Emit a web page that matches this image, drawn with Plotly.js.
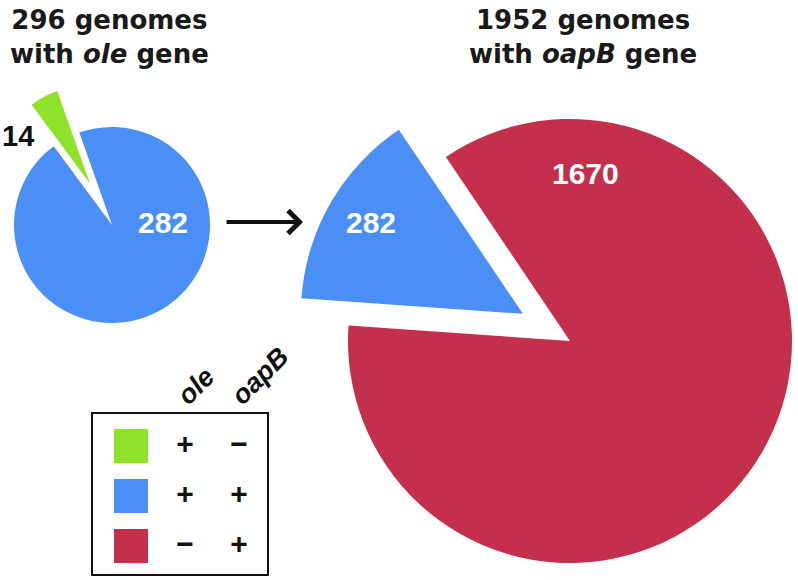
<!DOCTYPE html>
<html>
<head>
<meta charset="utf-8">
<script src="https://cdn.plot.ly/plotly-3.0.1.min.js"></script>
<style>
html,body{margin:0;padding:0;overflow:hidden;background:#fff;width:798px;height:580px;}
#chart{position:absolute;left:-100px;top:-100px;width:1000px;height:800px;}
</style>
</head>
<body>
<div id="chart"></div>
<script>
// ---- data ----
const groups = ['ole+ oapB\u2212', 'ole+ oapB+', 'ole\u2212 oapB+'];
const groupColors = ['#8FE22A', '#4A8FF5', '#C4304B'];
const oleSign = ['+', '+', '\u2212'];
const oapBSign = ['\u2212', '+', '+'];
const legendColumns = ['ole', 'oapB'];

const oleLabels = ['ole+ oapB\u2212', 'ole+ oapB+'];
const oleValues = [14, 282];
const oapBLabels = ['ole+ oapB+', 'ole\u2212 oapB+'];
const oapBValues = [282, 1670];

// ---- layout helpers (screen px -> paper) ----
const W = 1000, H = 800, OX = 100, OY = 100;
const px = sx => (sx + OX) / W;
const py = sy => 1 - (sy + OY) / H;
function pieDomain(cx, cy, r, pull) {
  const h = r * (1 + pull);
  return {x: [px(cx - h), px(cx + h)], y: [py(cy + h), py(cy - h)]};
}
const colorOf = l => groupColors[groups.indexOf(l)];
const sum = a => a.reduce((s, v) => s + v, 0);

const smallPull = 0.48, bigPull = 0.245;

const signFont = {family: 'Liberation Sans, Arial, sans-serif', size: 30, weight: 'bold', color: '#111'};

const traces = [
  {
    type: 'pie', labels: oleLabels, values: oleValues, sort: false,
    direction: 'clockwise', rotation: -36.5,
    pull: oleLabels.map((l, i) => i === 0 ? smallPull : 0),
    marker: {colors: oleLabels.map(colorOf), line: {width: 0}},
    textinfo: 'none', hoverinfo: 'label+value', showlegend: false,
    domain: pieDomain(112, 225, 98, smallPull)
  },
  {
    type: 'pie', labels: oapBLabels, values: oapBValues, sort: false,
    direction: 'clockwise', rotation: -86,
    pull: oapBLabels.map((l, i) => i === 0 ? bigPull : 0),
    marker: {colors: oapBLabels.map(colorOf), line: {width: 0}},
    textinfo: 'none', hoverinfo: 'label+value', showlegend: false,
    domain: pieDomain(570, 341, 222, bigPull)
  },
  // key table
  {
    type: 'scatter', mode: 'markers', x: groups.map(() => 'key'), y: groups,
    marker: {symbol: 'square', size: 34, color: groupColors, line: {width: 0}},
    hoverinfo: 'skip', showlegend: false, xaxis: 'x', yaxis: 'y'
  },
  {
    type: 'scatter', mode: 'text', x: groups.map(() => legendColumns[0]), y: groups,
    text: oleSign, textfont: signFont,
    hoverinfo: 'skip', showlegend: false, xaxis: 'x', yaxis: 'y'
  },
  {
    type: 'scatter', mode: 'text', x: groups.map(() => legendColumns[1]), y: groups,
    text: oapBSign, textfont: signFont,
    hoverinfo: 'skip', showlegend: false, xaxis: 'x', yaxis: 'y'
  }
];

const numFont = {family: 'Liberation Sans, Arial, sans-serif', size: 30, color: '#ffffff', weight: 'bold'};
const titleFont = {family: 'DejaVu Sans, sans-serif', size: 26, color: '#1a1a1a', weight: 'bold'};

const annotations = [
  {xref: 'paper', yref: 'paper', x: px(109), y: py(37), xanchor: 'center', yanchor: 'middle',
   text: '<b>' + sum(oleValues) + ' genomes</b><br><b>with <i>ole</i> gene</b>', showarrow: false, font: titleFont},
  {xref: 'paper', yref: 'paper', x: px(583), y: py(37), xanchor: 'center', yanchor: 'middle',
   text: '<b>' + sum(oapBValues) + ' genomes</b><br><b>with <i>oapB</i> gene</b>', showarrow: false, font: titleFont},
  {xref: 'paper', yref: 'paper', x: px(17.5), y: py(136), xanchor: 'center', yanchor: 'middle',
   text: String(oleValues[0]), showarrow: false,
   font: {family: 'Liberation Sans, Arial, sans-serif', size: 29, color: '#111', weight: 'bold'}},
  {xref: 'paper', yref: 'paper', x: px(162.5), y: py(222), xanchor: 'center', yanchor: 'middle',
   text: String(oleValues[1]), showarrow: false, font: numFont},
  {xref: 'paper', yref: 'paper', x: px(371), y: py(222), xanchor: 'center', yanchor: 'middle',
   text: String(oapBValues[0]), showarrow: false, font: numFont},
  {xref: 'paper', yref: 'paper', x: px(585.5), y: py(173), xanchor: 'center', yanchor: 'middle',
   text: String(oapBValues[1]), showarrow: false, font: numFont},
  {xref: 'paper', yref: 'paper', x: px(303), y: py(222), text: '', showarrow: true,
   ax: -78, ay: 0, arrowhead: 4, arrowsize: 1.1, arrowwidth: 4, arrowcolor: '#111', standoff: 0}
];

const layout = {
  width: W, height: H,
  margin: {l: 0, r: 0, t: 0, b: 0},
  paper_bgcolor: '#fff', plot_bgcolor: 'rgba(0,0,0,0)',
  showlegend: false,
  xaxis: {
    domain: [px(93), px(267)], type: 'category',
    categoryorder: 'array', categoryarray: ['key'].concat(legendColumns),
    range: [-0.7037, 2.5185], side: 'top', fixedrange: true,
    tickmode: 'array', tickvals: legendColumns,
    ticktext: legendColumns.map(c => '<b><i>' + c + '</i></b>'),
    tickangle: -45, ticks: '', showgrid: false, zeroline: false,
    ticklabelstandoff: -9, ticklabelshift: -6,
    tickfont: {family: 'Liberation Sans, Arial, sans-serif', size: 27, color: '#111'},
    showline: true, mirror: true, linecolor: '#111', linewidth: 2
  },
  yaxis: {
    domain: [py(574), py(414)], type: 'category',
    categoryorder: 'array', categoryarray: groups,
    range: [2.56, -0.64], fixedrange: true,
    showticklabels: false, ticks: '', showgrid: false, zeroline: false,
    showline: true, mirror: true, linecolor: '#111', linewidth: 2
  },
  annotations: annotations
};

Plotly.newPlot('chart', traces, layout, {displayModeBar: false, staticPlot: true});
</script>
</body>
</html>
